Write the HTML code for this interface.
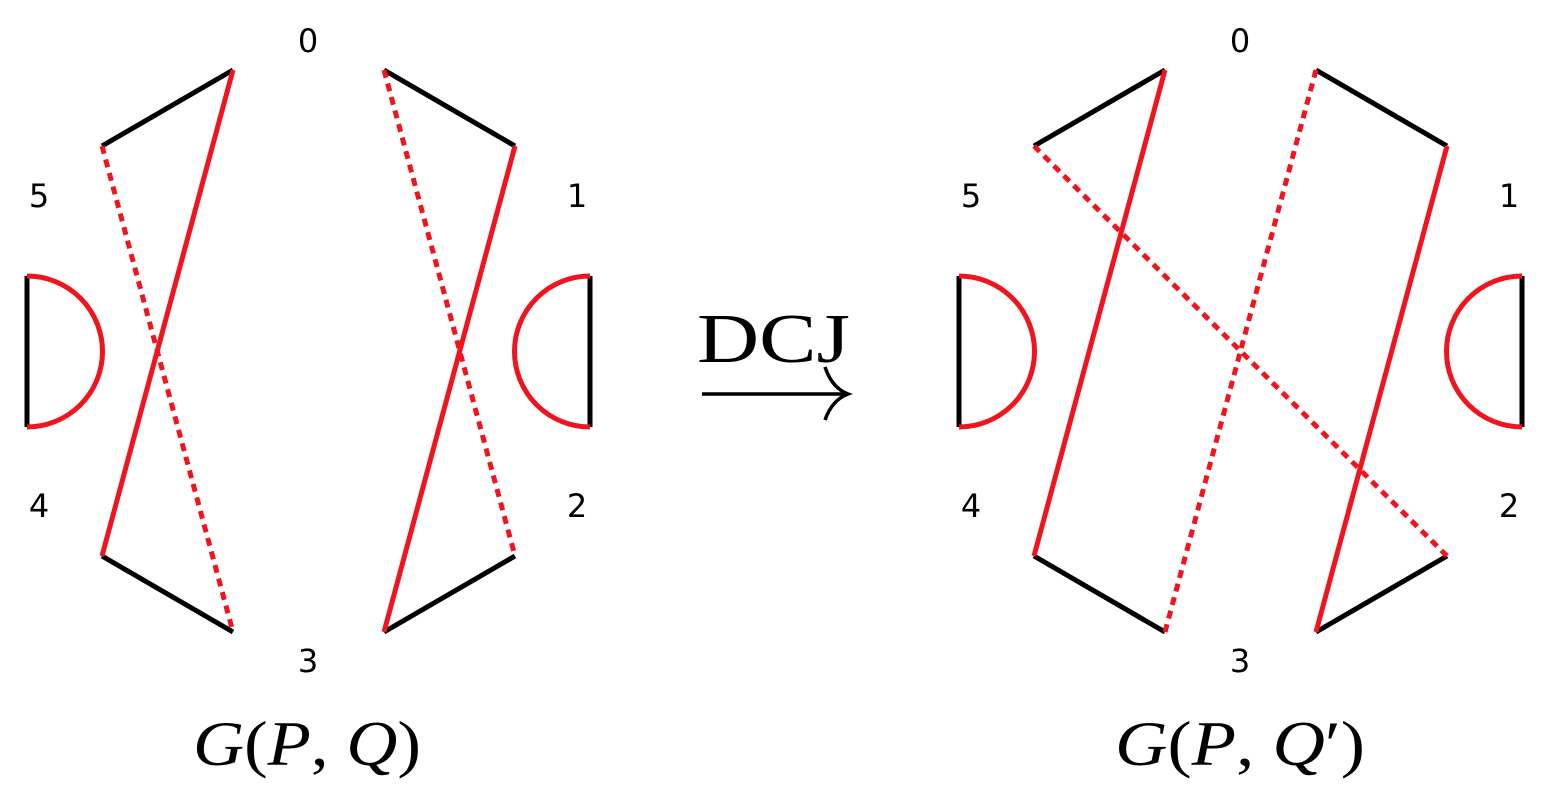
<!DOCTYPE html>
<html><head><meta charset="utf-8"><style>html,body{margin:0;padding:0;background:#fff}svg{display:block}</style></head>
<body>
<svg width="1557" height="799" viewBox="0 0 1557 799" xmlns="http://www.w3.org/2000/svg">
<g stroke-width="5" fill="none" stroke-linecap="butt">
<g>
<line x1="102" y1="146" x2="233" y2="70" stroke="#000"/>
<line x1="102" y1="556" x2="233" y2="632" stroke="#000"/>
<line x1="384" y1="70" x2="515" y2="146" stroke="#000"/>
<line x1="384" y1="632" x2="515" y2="556" stroke="#000"/>
<line x1="233" y1="70" x2="102" y2="556" stroke="#f0141e"/>
<line x1="515" y1="146" x2="384" y2="632" stroke="#f0141e"/>
<line x1="102" y1="146" x2="233" y2="632" stroke="#f0141e" stroke-dasharray="8 6"/>
<line x1="384" y1="70" x2="515" y2="556" stroke="#f0141e" stroke-dasharray="8 6"/>
<line x1="27" y1="276" x2="27" y2="427" stroke="#000"/>
<path d="M27 276 A75.5 75.5 0 0 1 27 427" stroke="#f0141e"/>
<line x1="590" y1="276" x2="590" y2="427" stroke="#000"/>
<path d="M590 276 A75.5 75.5 0 0 0 590 427" stroke="#f0141e"/>
</g>
<g>
<line x1="1034" y1="146" x2="1165" y2="70" stroke="#000"/>
<line x1="1034" y1="556" x2="1165" y2="632" stroke="#000"/>
<line x1="1316" y1="70" x2="1447" y2="146" stroke="#000"/>
<line x1="1316" y1="632" x2="1447" y2="556" stroke="#000"/>
<line x1="1165" y1="70" x2="1034" y2="556" stroke="#f0141e"/>
<line x1="1447" y1="146" x2="1316" y2="632" stroke="#f0141e"/>
<line x1="1034" y1="146" x2="1447" y2="556" stroke="#f0141e" stroke-dasharray="8 6"/>
<line x1="1165" y1="632" x2="1316" y2="70" stroke="#f0141e" stroke-dasharray="8 6"/>
<line x1="959" y1="276" x2="959" y2="427" stroke="#000"/>
<path d="M959 276 A75.5 75.5 0 0 1 959 427" stroke="#f0141e"/>
<line x1="1522" y1="276" x2="1522" y2="427" stroke="#000"/>
<path d="M1522 276 A75.5 75.5 0 0 0 1522 427" stroke="#f0141e"/>
</g>
<g stroke="#000" stroke-width="3.5">
<line x1="702" y1="394" x2="846" y2="394"/>
<path d="M825 367 Q832 388 848 394 Q832 400 825 420"/>
</g>
</g>
<g font-family="'DejaVu Sans','Liberation Sans',sans-serif" font-size="32" text-anchor="middle" fill="#000">
<text x="308" y="52">0</text>
<text x="39" y="207">5</text>
<text x="577" y="207">1</text>
<text x="39" y="517">4</text>
<text x="577" y="517">2</text>
<text x="308" y="672">3</text>
<text x="1240" y="52">0</text>
<text x="971" y="207">5</text>
<text x="1509" y="207">1</text>
<text x="971" y="517">4</text>
<text x="1509" y="517">2</text>
<text x="1240" y="672">3</text>
</g>
<g font-family="'Liberation Serif',serif" fill="#000">
<text x="697" y="362" font-size="70" textLength="153" lengthAdjust="spacingAndGlyphs">DCJ</text>
<text x="193" y="765" font-size="64" textLength="228" lengthAdjust="spacingAndGlyphs"><tspan font-style="italic">G</tspan>(<tspan font-style="italic">P</tspan>, <tspan font-style="italic">Q</tspan>)</text>
<text x="1115" y="765" font-size="64" textLength="250" lengthAdjust="spacingAndGlyphs"><tspan font-style="italic">G</tspan>(<tspan font-style="italic">P</tspan>, <tspan font-style="italic">Q</tspan>′)</text>
</g>
</svg>
</body></html>
